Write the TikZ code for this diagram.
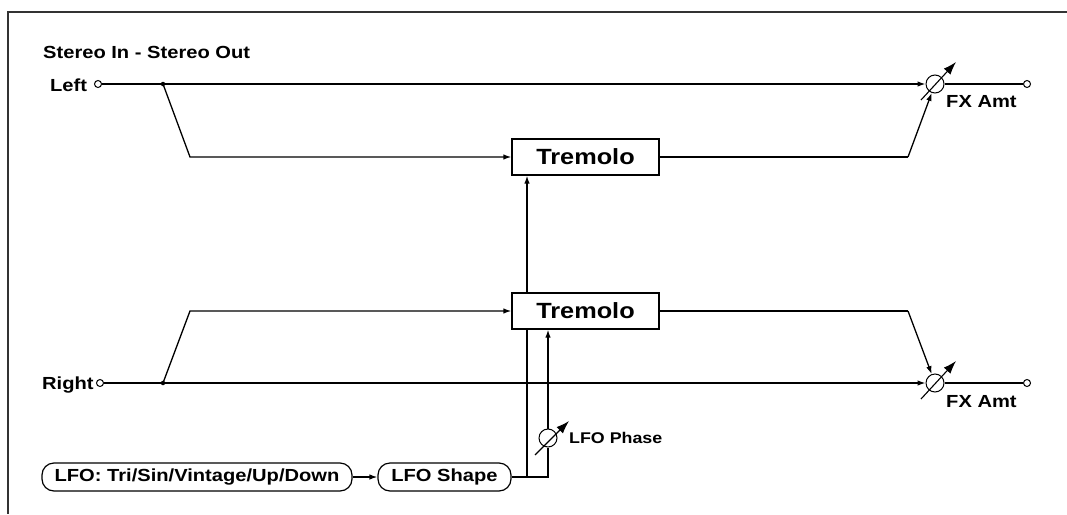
\documentclass[tikz,border=0pt]{standalone}
\usepackage{fontspec}
\setmainfont{Liberation Sans}[FakeStretch=1.15]
\usetikzlibrary{arrows.meta,backgrounds}
\begin{document}
\begin{tikzpicture}[x=1pt,y=-1pt,
  lbl/.style={font=\fontsize{17.5}{20}\selectfont\bfseries, inner sep=0, anchor=base west},
  fxbox/.style={draw, line width=1.3pt, minimum width=147pt, minimum height=36pt, fill=white, inner sep=0, font=\fontsize{22}{24}\selectfont\bfseries},
  pill/.style={draw, line width=1.2pt, rounded corners=12pt, minimum height=28pt, inner sep=0, fill=white, font=\fontsize{17.5}{20}\selectfont\bfseries},
  port/.style={draw, circle, minimum size=7pt, inner sep=0, line width=1pt, fill=white},
  vca/.style={draw, circle, minimum size=18pt, inner sep=0, line width=1pt},
  sig/.style={line width=1.3pt},
  arr/.style={sig, -{Latex[length=8pt,width=5.5pt]}},
  knob/.style={line width=1.1pt, -{Latex[length=13pt,width=9pt]}},
  jdot/.style={circle, fill, inner sep=0, minimum size=4.5pt}
]
\useasboundingbox (0,0) rectangle (1067,514);
\draw[line width=2pt, black!80] (1067,12) -- (8,12) -- (8,514);

% labels
\node[lbl] (title) at (43,58) {Stereo In - Stereo Out};
\node[lbl] (lt) at (50,91) {Left};
\node[lbl] (rt) at (42,389) {Right};

% left channel
\node[port] (lin) at (98,84) {};
\node[port] (lout) at (1027,84) {};
\node[vca] (lv) at (935,84) {};
\node[lbl] (lfx) at (946,107) {FX Amt};
\node[jdot] (ls) at (163,84) {};
\coordinate (lb) at (190,157);
\node[fxbox] (t1) at (585.5,157) {Tremolo};
\coordinate (lc) at (908,157);

% right channel
\node[port] (rin) at (100,383) {};
\node[port] (rout) at (1027,383) {};
\node[vca] (rv) at (935,383) {};
\node[lbl] (rfx) at (946,407) {FX Amt};
\node[jdot] (rs) at (163,383) {};
\coordinate (rb) at (190,311);
\node[fxbox] (t2) at (585.5,311) {Tremolo};
\coordinate (rc) at (908,311);

% LFO
\node[pill, minimum width=310pt] (lfo) at (197,477) {LFO: Tri/Sin/Vintage/Up/Down};
\node[pill, minimum width=133pt] (shape) at (444.5,477) {LFO Shape};
\coordinate (j) at (527,477);
\coordinate (k) at (548,477);
\node[vca] (ph) at (548,438) {};
\node[lbl, font=\fontsize{15.5}{18}\selectfont\bfseries] (phl) at (569,443) {LFO Phase};

\begin{scope}[on background layer]
\draw[arr] (lin) -- (lv);
\draw[sig] (lv) -- (lout);
\draw[arr] (ls.center) -- (lb) -- (t1.west);
\draw[sig] (t1.east) -- (lc);
\draw[arr] (lc) -- (lv);

\draw[arr] (rin) -- (rv);
\draw[sig] (rv) -- (rout);
\draw[arr] (rs.center) -- (rb) -- (t2.west);
\draw[sig] (t2.east) -- (rc);
\draw[arr] (rc) -- (rv);

\draw[arr] (lfo) -- (shape);
\draw[sig] (shape.east) -- (k) -- (ph);
\draw[arr] (ph) -- (ph |- t2.south);
\draw[arr] (j) -- (j |- t1.south);
\end{scope}

% variable controls
\draw[knob] ([shift={(-14,16)}]lv.center) -- ([shift={(21,-22)}]lv.center);
\draw[knob] ([shift={(-14,16)}]rv.center) -- ([shift={(21,-22)}]rv.center);
\draw[knob] ([shift={(-13,17)}]ph.center) -- ([shift={(21,-17)}]ph.center);
\end{tikzpicture}
\end{document}
